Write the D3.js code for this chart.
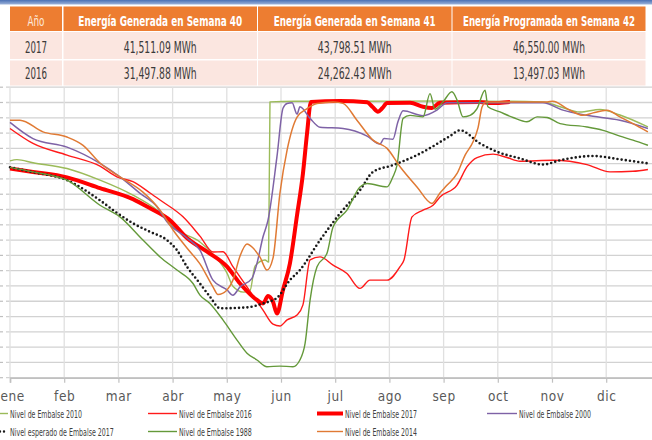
<!DOCTYPE html>
<html><head><meta charset="utf-8">
<script src="https://cdn.jsdelivr.net/npm/d3@7"></script>
<style>
body{margin:0;background:#fff}
svg{display:block}
text{font-family:"Liberation Sans Narrow","Arial Narrow","DejaVu Sans Condensed",sans-serif}
</style>
</head><body>
<svg id="c" width="652" height="440"></svg>
<script>
// ---------- DATA ----------
const months = ["ene","feb","mar","abr","may","jun","jul","ago","sep","oct","nov","dic"];
const yTicks = [0,5,10,15,20,25,30,35,40,45,50,55,60,65,70,75,80,85,90,95];

// [day of year, nivel]
const nivel2010 = [[0,70.9],[3.9,71.3],[12.9,70.3],[32,68.4],[50.5,64.6],[69,59.7],[82.5,54.8],[93.7,48.3],[106.6,44.4],[113.9,40.4],[121.8,34.2],[125.1,29.9],[131,28.0],[134.7,28.5],[137.5,36.5],[143.1,38.5],[145.1,37.8],[145.9,90.2],[160,90.4],[190.8,90.4],[246.9,90.5],[299.1,90.2],[308.7,88.6],[319.9,86.9],[331.1,87.7],[342.3,85.9],[358,82.0]];
const nivel2016 = [[0,81.5],[12.9,76.6],[32,72.8],[50.5,69.2],[60,65.7],[69,64.1],[78.6,60.4],[84.2,58.1],[97.1,52.6],[106.6,46.3],[113.9,41.1],[119.5,41.2],[125.1,36.3],[133,29.7],[142,22.1],[147.6,17.5],[151.5,16.9],[155.5,18.9],[161.1,20.5],[164.4,23.8],[168.4,38.5],[174,39.5],[181.3,36.8],[189.1,34.1],[196.4,29.2],[202,31.9],[211.6,31.9],[218.9,36.3],[221.1,38.5],[225.6,52.6],[231.8,54.8],[237.4,56.4],[241.3,59.1],[250.9,63.0],[256.5,69.0],[262.1,72.0],[271.1,73.1],[278.9,72.0],[286.2,70.8],[304.7,71.1],[323.8,69.7],[336.7,67.3],[349.6,67.5],[358,68.1]];
const nivel2017 = [[0,68.4],[12.9,67.3],[32,65.5],[50.5,62.0],[69,58.4],[78.6,55.4],[89.8,51.5],[99.3,45.7],[110.6,41.2],[121.8,36.3],[129.1,30.8],[138.6,25.4],[142,24.3],[144.8,26.7],[147.6,24.8],[149.8,21.0],[153.2,28.7],[157.1,37.4],[161.1,53.2],[164.4,66.8],[166.7,79.9],[168.9,90.2],[185,90.5],[200.4,90.1],[203.5,88.5],[206.5,87.0],[209,88.2],[211.6,89.8],[224.5,89.9],[231.8,88.6],[236.8,88.2],[241.3,89.9],[263.8,90.2],[270,89.8],[280.6,90.2]];
const nivel2000 = [[0,83.5],[12.9,78.2],[32,75.4],[50.5,70.1],[61.7,65.7],[73,60.3],[82.5,55.9],[88.1,51.0],[99.3,45.7],[106.6,41.7],[113.9,31.9],[121.8,28.7],[125.1,27.0],[129.1,29.7],[135.8,32.5],[138.6,37.4],[142,46.1],[144.8,51.5],[149.8,72.2],[153.2,88.1],[155.5,89.7],[158.3,89.9],[161.1,86.2],[162.7,88.6],[168.4,84.8],[174,81.9],[186.9,81.5],[200.4,79.0],[207.6,76.4],[209.9,78.2],[214.9,78.0],[217.7,83.7],[220.6,87.3],[231.8,85.7],[239.6,87.5],[245.2,89.9],[299.1,89.9],[310.3,87.5],[323.8,85.8],[342.3,84.2],[358,81.5]];
const esperado2017 = [[0,68.8],[12.9,67.2],[32,64.6],[50.5,58.0],[60,53.9],[69,50.5],[78.6,47.7],[88.1,45.0],[93.7,41.7],[99.3,36.3],[106.6,30.8],[112.2,26.5],[117.9,22.7],[133,23.0],[142,24.3],[149.8,26.1],[157.1,31.9],[162.7,35.2],[174,45.0],[185.2,53.7],[196.4,61.3],[203.7,67.3],[214.9,69.5],[228.4,72.8],[246.9,79.0],[252.5,80.9],[263.8,76.6],[273.3,73.9],[286.2,71.7],[299.1,69.7],[308.7,71.1],[327.2,72.5],[342.3,71.4],[358,70.1]];
const nivel1988 = [[0,68.8],[12.9,67.3],[32,64.6],[50.5,56.4],[61.7,52.6],[74.6,45.0],[84.2,39.5],[93.7,35.2],[102.7,30.8],[106.6,27.0],[112.2,24.3],[119.5,18.9],[127.4,12.3],[133,8.0],[138.6,5.8],[144.2,3.6],[151.5,3.8],[158.8,3.6],[162.7,5.8],[165.6,11.2],[168.4,25.4],[172.3,36.3],[177.9,40.7],[181.3,49.3],[189.1,54.8],[196.4,62.4],[200.4,63.5],[211.6,62.4],[214.9,65.7],[217.2,69.5],[220.6,84.8],[224.5,85.8],[231.8,85.3],[235.7,92.9],[238.5,87.8],[243,90.2],[248,93.5],[250.9,90.8],[254.2,85.3],[258.2,85.8],[262.1,88.0],[266.6,94.0],[268.2,88.6],[275,86.9],[282.3,85.1],[290.1,83.7],[295.8,85.3],[301.4,85.1],[308.7,83.1],[323.8,82.0],[332.8,80.9],[342.3,79.0],[349.6,77.7],[358,76.0]];
const nivel2014 = [[0,84.2],[5.6,84.2],[18.5,80.4],[32,78.7],[41,76.0],[50.5,70.2],[61.7,65.7],[74.6,60.7],[84.2,54.8],[91.5,48.3],[99.3,42.4],[106.6,37.2],[113.9,29.7],[116.7,27.2],[121.8,28.7],[125.1,31.9],[129.1,39.8],[133,43.7],[136.4,42.4],[140.3,39.4],[144.2,35.2],[147.6,39.1],[151.5,60.4],[155.5,74.4],[161.1,85.2],[166.7,88.0],[172.3,89.7],[181.3,90.2],[186.9,89.7],[194.7,84.2],[203.7,77.7],[211.6,75.0],[218.9,69.0],[228.4,62.4],[236.8,57.0],[241.3,60.4],[245.2,62.9],[250.9,66.8],[255.4,72.8],[259.8,77.1],[262.6,81.6],[264.9,88.5],[267.1,90.2],[301.4,90.2],[304.7,90.4],[312.6,88.0],[321.6,85.8],[327.2,86.6],[335,87.5],[342.3,85.3],[349.6,83.1],[358,80.4]];

const seriesNames = ["Nivel de Embalse 2010","Nivel de Embalse 2016","Nivel de Embalse 2017","Nivel de Embalse 2000","Nivel esperado de Embalse 2017","Nivel de Embalse 1988","Nivel de Embalse 2014"];

const tableHeaders = ["Año","Energía Generada en Semana 40","Energía Generada en Semana 41","Energía Programada en Semana 42"];
const tableYears = ["2017","2016"];
const semana40 = ["41,511.09 MWh","31,497.88 MWh"];
const semana41 = ["43,798.51 MWh","24,262.43 MWh"];
const semana42 = ["46,550.00 MWh","13,497.03 MWh"];

// ---------- STYLES ----------
const styles = [
  {data:nivel2010, color:"#9BBB59", w:1.4},
  {data:nivel2016, color:"#FF1A1A", w:1.4},
  {data:nivel2017, color:"#FF0000", w:4},
  {data:nivel2000, color:"#7E62A6", w:1.5},
  {data:esperado2017, color:"#1a1a1a", w:2.6, dash:"0,4.2", cap:"round"},
  {data:nivel1988, color:"#64993A", w:1.4},
  {data:nivel2014, color:"#E07A34", w:1.5}
];

// condense a text horizontally to a target width, keeping its height
function condense(sel, px, py, target){
  sel.each(function(){
    const w = this.getComputedTextLength();
    const sx = w > target ? target / w : 1;
    this.setAttribute("x", 0); this.setAttribute("y", 0);
    this.setAttribute("transform", `translate(${px},${py}) scale(${sx},1)`);
  });
}

const svg = d3.select("#c");
const x = d3.scaleLinear().domain([0,365]).range([10,660.4]);
const y = d3.scaleLinear().domain([0,95]).range([377.7,87.2]);
const monthTicks = months.map((m,i)=> i*365/12);

// gridlines
const g = svg.append("g");
g.selectAll("line.h").data(yTicks).join("line")
  .attr("x1",6).attr("x2",652).attr("y1",d=>y(d)).attr("y2",d=>y(d))
  .attr("stroke","#d2d2d2").attr("stroke-width",1.3);
g.selectAll("line.yt").data(yTicks).join("line")
  .attr("x1",0).attr("x2",3).attr("y1",d=>y(d)).attr("y2",d=>y(d))
  .attr("stroke","#bfbfbf").attr("stroke-width",1.2);
g.selectAll("line.v").data(monthTicks).join("line")
  .attr("x1",d=>x(d)).attr("x2",d=>x(d)).attr("y1",y(95)).attr("y2",y(0))
  .attr("stroke","#e0e0e0").attr("stroke-width",1.3);

// x axis
const xAxis = d3.axisBottom(x).tickValues(monthTicks).tickFormat((d,i)=>months[i]).tickSize(5).tickPadding(9);
const ax = svg.append("g").attr("transform",`translate(0,${y(0)})`).call(xAxis);
ax.select(".domain").attr("stroke","#c0c0c0").attr("stroke-width",1.6);
ax.selectAll(".tick line").attr("stroke","#c0c0c0").attr("stroke-width",1.2);
ax.selectAll(".tick text").attr("font-size",13.5).attr("fill","#595959")
  .attr("font-family",'"Liberation Sans Narrow","Arial Narrow",sans-serif').attr("letter-spacing",0.6);
ax.selectAll(".tick text").filter((d,i)=>i===0).attr("text-anchor","start").attr("dx",-10);

// lines
const line = d3.line().x(d=>x(d[0])).y(d=>y(d[1])).curve(d3.curveMonotoneX);
styles.forEach(s=>{
  svg.append("path").datum(s.data).attr("d",line)
    .attr("fill","none").attr("stroke",s.color).attr("stroke-width",s.w)
    .attr("stroke-linejoin","round")
    .attr("stroke-linecap",s.cap||"butt")
    .attr("stroke-dasharray",s.dash||null);
});

// legend
const legPos = [[-20,8,10,413.5,72],[148,177,179,413.5,73],[317,343,345,413.5,72],[487,517,519,413.5,72],[0,7,10,431.5,104],[148,177,179,431.5,73],[317,343,345,431.5,72]];
const leg = svg.append("g");
seriesNames.forEach((n,i)=>{
  const s = styles[i], p = legPos[i];
  leg.append("line").attr("x1",p[0]).attr("x2",p[1]).attr("y1",p[3]).attr("y2",p[3])
    .attr("stroke",s.color).attr("stroke-width",s.w===4?4:(s.dash?2.4:1.4))
    .attr("stroke-linecap",s.cap||"butt").attr("stroke-dasharray",s.dash?"0,4":null);
  const t = leg.append("text").attr("font-size",10.5).attr("fill","#404040").text(n);
  condense(t, p[2], p[3]+4, p[4]);
});

// top band
const defs = svg.append("defs");
const grad = defs.append("linearGradient").attr("id","band").attr("x1",0).attr("x2",0).attr("y1",0).attr("y2",1);
grad.append("stop").attr("offset","0%").attr("stop-color","#4a70b4");
grad.append("stop").attr("offset","100%").attr("stop-color","#9db3da");
svg.append("rect").attr("x",0).attr("y",0).attr("width",652).attr("height",4.5).attr("fill","url(#band)");

// table
const tb = svg.append("g");
const colX = [10,63.5,258,452.5], colW = [52,193.5,193.5,193];
const rowY = [6.5,32,60.5], rowH = [24.5,27,25];
const widths = [[17,164,162,172],[22,73,74,72],[22,73,74,72]];
const fsz = [[14,14.5,14.5,14.5],[15,15,15,15],[15,15,15,15]];
const baseY = [25.5,52.5,78.5];
const rows = [tableHeaders, [tableYears[0],semana40[0],semana41[0],semana42[0]], [tableYears[1],semana40[1],semana41[1],semana42[1]]];
rows.forEach((r,ri)=>{
  r.forEach((t,ci)=>{
    tb.append("rect").attr("x",colX[ci]).attr("y",rowY[ri]).attr("width",colW[ci]).attr("height",rowH[ri])
      .attr("fill", ri===0 ? "#ED7D31" : "#FBE6E0");
    const tx = tb.append("text")
      .attr("text-anchor","middle")
      .attr("font-size", fsz[ri][ci])
      .attr("font-weight", ri===0 && ci>0 ? "bold" : "normal")
      .attr("fill", ri===0 ? (ci===0 ? "#FDE9DC" : "#ffffff") : "#3a3a3a")
      .text(t);
    condense(tx, colX[ci]+colW[ci]/2, baseY[ri], widths[ri][ci]);
  });
});
</script>
</body></html>
